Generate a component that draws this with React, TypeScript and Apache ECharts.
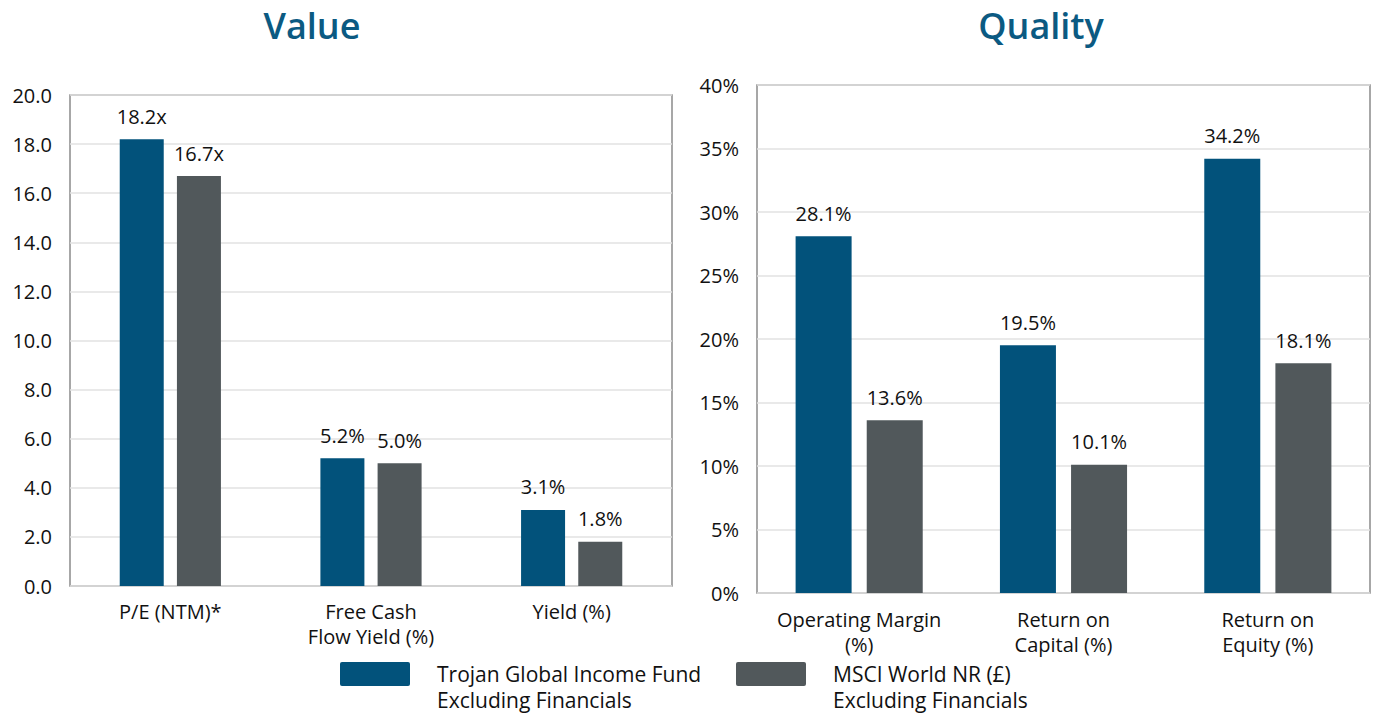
import React, { useEffect, useRef } from "react";
import * as echarts from "echarts";

const valueCategories = ["P/E (NTM)*", "Free Cash\nFlow Yield (%)", "Yield (%)"];
const valueFund = [18.2, 5.2, 3.1];
const valueIndex = [16.7, 5.0, 1.8];
const valueSuffix = ["x", "%", "%"];
const valueTicks = { min: 0, max: 20, interval: 2 };

const qualityCategories = ["Operating Margin\n(%)", "Return on\nCapital (%)", "Return on\nEquity (%)"];
const qualityFund = [28.1, 19.5, 34.2];
const qualityIndex = [13.6, 10.1, 18.1];
const qualityTicks = { min: 0, max: 40, interval: 5 };

const fundName = "Trojan Global Income Fund\nExcluding Financials";
const indexName = "MSCI World NR (£)\nExcluding Financials";

const BLUE = "#02527b";
const GRAY = "#51585b";
const FONT = "Open Sans";
const FS = 20;

export default function App() {
  const ref = useRef<HTMLDivElement>(null);
  useEffect(() => {
    if (!ref.current) return;
    const chart = echarts.init(ref.current, undefined, { renderer: "svg" });
    const labelStyle = {
      show: true,
      position: "top" as const,
      distance: 13,
      color: "#111",
      fontSize: FS,
      fontFamily: FONT,
    };
    const gridLine = { show: true, lineStyle: { color: "#e2e2e2", width: 1.5 } };
    const catAxis = (idx: number, data: string[], margin: number) => ({
      type: "category" as const,
      gridIndex: idx,
      data,
      axisTick: { show: false },
      axisLine: { show: false },
      axisLabel: {
        color: "#111",
        fontSize: FS,
        fontFamily: FONT,
        lineHeight: 25,
        margin,
        interval: 0,
      },
    });
    const titleStyle = { color: "#0b5a82", fontSize: 36, fontWeight: 600, fontFamily: FONT };
    chart.setOption({
      animation: false,
      title: [
        { text: "Value", left: 307, top: 2, textAlign: "center", textStyle: titleStyle },
        { text: "Quality", left: 1036, top: 2, textAlign: "center", textStyle: titleStyle },
      ],
      grid: [
        { left: 70, top: 95, width: 602, height: 491, show: true, borderColor: "#8a8a8a", borderWidth: 1.5, backgroundColor: "transparent" },
        { left: 757, top: 85, width: 613, height: 508, show: true, borderColor: "#8a8a8a", borderWidth: 1.5, backgroundColor: "transparent" },
      ],
      xAxis: [catAxis(0, valueCategories, 13), catAxis(1, qualityCategories, 14)],
      yAxis: [
        {
          type: "value",
          gridIndex: 0,
          ...valueTicks,
          axisLine: { show: false },
          axisTick: { show: false },
          splitLine: gridLine,
          axisLabel: {
            color: "#111",
            fontSize: FS,
            fontFamily: FONT,
            margin: 18,
            formatter: (v: number) => v.toFixed(1),
          },
        },
        {
          type: "value",
          gridIndex: 1,
          ...qualityTicks,
          axisLine: { show: false },
          axisTick: { show: false },
          splitLine: gridLine,
          axisLabel: {
            color: "#111",
            fontSize: FS,
            fontFamily: FONT,
            margin: 18,
            formatter: (v: number) => v + "%",
          },
        },
      ],
      series: [
        {
          name: fundName,
          type: "bar",
          xAxisIndex: 0,
          yAxisIndex: 0,
          data: valueFund,
          barWidth: 44,
          barGap: "30%",
          itemStyle: { color: BLUE },
          label: { ...labelStyle, formatter: (p: any) => p.value.toFixed(1) + valueSuffix[p.dataIndex] },
        },
        {
          name: indexName,
          type: "bar",
          xAxisIndex: 0,
          yAxisIndex: 0,
          data: valueIndex,
          barWidth: 44,
          barGap: "30%",
          itemStyle: { color: GRAY },
          label: { ...labelStyle, formatter: (p: any) => p.value.toFixed(1) + valueSuffix[p.dataIndex] },
        },
        {
          name: fundName,
          type: "bar",
          xAxisIndex: 1,
          yAxisIndex: 1,
          data: qualityFund,
          barWidth: 56,
          barGap: "27%",
          itemStyle: { color: BLUE },
          label: { ...labelStyle, formatter: (p: any) => p.value.toFixed(1) + "%" },
        },
        {
          name: indexName,
          type: "bar",
          xAxisIndex: 1,
          yAxisIndex: 1,
          data: qualityIndex,
          barWidth: 56,
          barGap: "27%",
          itemStyle: { color: GRAY },
          label: { ...labelStyle, formatter: (p: any) => p.value.toFixed(1) + "%" },
        },
      ],
      graphic: [
        { type: "rect", left: 340, top: 662, shape: { width: 70, height: 24, r: 2 }, style: { fill: BLUE } },
        {
          type: "text",
          left: 437,
          top: 661,
          style: { text: fundName, fontSize: 21, lineHeight: 26, fontFamily: FONT, fill: "#111" },
        },
        { type: "rect", left: 736, top: 662, shape: { width: 70, height: 24, r: 2 }, style: { fill: GRAY } },
        {
          type: "text",
          left: 833,
          top: 661,
          style: { text: indexName, fontSize: 21, lineHeight: 26, fontFamily: FONT, fill: "#111" },
        },
      ],
    });
    return () => chart.dispose();
  }, []);
  return (
    <div
      ref={ref}
      style={{ position: "fixed", left: 0, top: 0, width: 1375, height: 718, background: "#fff" }}
    />
  );
}
